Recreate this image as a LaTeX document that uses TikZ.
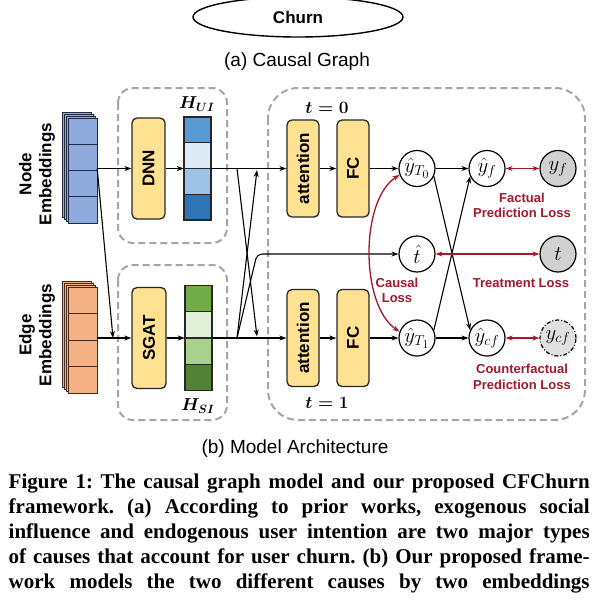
\documentclass[tikz,border=0pt]{standalone}
\usepackage{fontspec}
\setmainfont{Liberation Serif}
\setsansfont{Liberation Sans}
\usetikzlibrary{arrows.meta,shapes.geometric}
\definecolor{boxyellow}{HTML}{FFE291}
\definecolor{dashgray}{HTML}{A6A6A6}
\definecolor{lossred}{HTML}{A3192A}
\definecolor{nodeblue}{HTML}{8FAADC}
\definecolor{navy}{HTML}{1F2A44}
\definecolor{edgeorange}{HTML}{F4B183}
\definecolor{brownd}{HTML}{4A2A1A}
\definecolor{ub1}{HTML}{5B9BD5}
\definecolor{ub2}{HTML}{DEEBF7}
\definecolor{ub3}{HTML}{9DC3E6}
\definecolor{ub4}{HTML}{2E75B6}
\definecolor{sg1}{HTML}{70AD47}
\definecolor{sg2}{HTML}{E2F0D9}
\definecolor{sg3}{HTML}{A9D18E}
\definecolor{sg4}{HTML}{548235}
\tikzset{
  ybox/.style={draw=black!85, fill=boxyellow, line width=1.3pt, rounded corners=5pt, rotate=90,
    font=\sffamily\bfseries\fontsize{17}{17}\selectfont, inner sep=0pt},
  gbox/.style={draw=dashgray, line width=2pt, dash pattern=on 7pt off 4pt},
  circ/.style={circle, draw, line width=1.2pt, minimum size=36pt, inner sep=0pt, font=\fontsize{20.74}{20.74}\selectfont},
  gcirc/.style={circ, fill=black!18},
  arr/.style={-{Stealth[length=7pt,width=5pt]}, line width=1.1pt},
  rarr/.style={{Stealth[length=7pt,width=5pt]}-{Stealth[length=7pt,width=5pt]}, line width=1.3pt, draw=lossred},
  losslbl/.style={text=lossred, font=\sffamily\bfseries\fontsize{13}{15.5}\selectfont, align=center},
  emblbl/.style={rotate=90, font=\sffamily\bfseries\fontsize{17}{20}\selectfont, align=center},
  capsf/.style={font=\sffamily\fontsize{19}{19}\selectfont},
  capline/.style={anchor=base west, inner sep=0pt, font=\bfseries\fontsize{21}{25}\selectfont},
  hold/.style={inner sep=0pt, draw=none},
  mathlbl/.style={font=\fontsize{17.28}{17.28}\selectfont\boldmath}
}
\frenchspacing
\begin{document}
\begin{tikzpicture}[x=1pt,y=-1pt]
\useasboundingbox (0,0) rectangle (606,606);
\fill[white] (0,0) rectangle (606,606);

% (a) causal graph
\node[ellipse, draw, line width=1.4pt, minimum width=210pt, minimum height=40pt,
  font=\sffamily\bfseries\fontsize{17}{17}\selectfont] (churn) at (298,17) {Churn};
\coordinate (above) at (301,-14);
\draw[arr] (above) -- (churn.north);
\node[capsf] (capa) at (297,62) {(a) Causal Graph};

% dashed group boxes
\draw[gbox, rounded corners=15pt] (118,88) rectangle (227,243);
\draw[gbox, rounded corners=15pt] (118,265) rectangle (227,420);
\draw[gbox, rounded corners=30pt] (268,88) rectangle (585,420);

% embedding labels
\node[emblbl] (nlab) at (37,174) {Node\\Embeddings};
\node[emblbl] (elab) at (37,335) {Edge\\Embeddings};

% node embedding stack
\foreach \d in {6,4,2} \draw[fill=nodeblue, draw=navy, line width=1pt] ({68-\d},{118-\d}) rectangle ({97-\d},{223-\d});
\foreach \i in {0,...,3} \draw[fill=nodeblue, draw=navy, line width=1pt] (68,{118+26.25*\i}) rectangle (97,{118+26.25*(\i+1)});
\node[hold, minimum width=29pt, minimum height=105pt] (nemb) at (82.5,170.5) {};

% edge embedding stack
\foreach \d in {6,4,2} \draw[fill=edgeorange, draw=brownd, line width=1pt] ({68-\d},{287-\d}) rectangle ({97-\d},{393-\d});
\foreach \i in {0,...,3} \draw[fill=edgeorange, draw=brownd, line width=1pt] (68,{287+26.5*\i}) rectangle (97,{287+26.5*(\i+1)});
\node[hold, minimum width=29pt, minimum height=106pt] (eemb) at (82.5,340) {};

% DNN / SGAT (rotated: .north = left side, .south = right side)
\node[ybox, minimum width=101pt, minimum height=33pt] (dnn) at (148.5,168.5) {DNN};
\node[ybox, minimum width=101pt, minimum height=34pt] (sgat) at (149,338) {SGAT};

% H_UI
\foreach \c [count=\i from 0] in {ub1,ub2,ub3,ub4}
  \draw[fill=\c, draw=black!85, line width=1.1pt] (184,{117+25.75*\i}) rectangle (211,{117+25.75*(\i+1)});
\node[hold, minimum width=27pt, minimum height=103pt] (hui) at (197.5,168.5) {};
\node[mathlbl] (huil) at (197,104) {$H_{UI}$};

% H_SI
\foreach \c [count=\i from 0] in {sg1,sg2,sg3,sg4}
  \draw[fill=\c, draw=black!85, line width=1.1pt] (185,{285.5+26.25*\i}) rectangle (212,{285.5+26.25*(\i+1)});
\node[hold, minimum width=27pt, minimum height=105pt] (hsi) at (198.5,338) {};
\node[mathlbl] (hsil) at (198,406) {$H_{SI}$};

% attention / FC
\node[ybox, minimum width=97pt, minimum height=32pt] (att0) at (303,168.5) {attention};
\node[ybox, minimum width=97pt, minimum height=32pt] (fc0) at (353,168.5) {FC};
\node[ybox, minimum width=97pt, minimum height=32pt] (att1) at (303,338) {attention};
\node[ybox, minimum width=97pt, minimum height=32pt] (fc1) at (353,338) {FC};
\node[mathlbl] (t0l) at (327,108) {$t=0$};
\node[mathlbl] (t1l) at (327,403) {$t=1$};

% circles
\node[circ] (T0) at (417,168.5) {$\hat{y}_{T_0}$};
\node[circ] (yf) at (487,168.5) {$\hat{y}_{f}$};
\node[gcirc] (yfo) at (558,168.5) {$y_{f}$};
\node[circ] (that) at (417,254) {$\hat{t}$};
\node[gcirc] (tt) at (558,254) {$t$};
\node[circ] (T1) at (417,338) {$\hat{y}_{T_1}$};
\node[circ] (ycf) at (487,338) {$\hat{y}_{cf}$};
\node[gcirc, fill=black!12, dash pattern=on 4pt off 2pt on 1pt off 2pt] (ycfo) at (558,338) {$y_{cf}$};

% loss labels
\node[losslbl] (fl) at (522,205.5) {Factual\\Prediction Loss};
\node[losslbl] (tl) at (521,283) {Treatment Loss};
\node[losslbl] (cl) at (397,290.5) {Causal\\Loss};
\node[losslbl] (cfl) at (522,377) {Counterfactual\\Prediction Loss};

% left connectors
\coordinate (m1) at (113,338);
\draw[arr] (nemb.east |- dnn.center) -- (dnn.north);
\draw[arr] (nemb.east |- dnn.center) -- (m1);
\draw[arr] (eemb.east |- sgat.center) -- (sgat.north);
\draw[arr] (dnn.south) -- (hui.west);
\draw[arr] (sgat.south) -- (hsi.west);
\draw[arr] (hui.east) -- (att0.north);
\draw[arr] (hsi.east) -- (att1.north);

% crossings
\coordinate (s0) at (237,168.5);
\coordinate (s1) at (237,338);
\coordinate (e0) at (257,170);
\coordinate (e1) at (257,336.5);
\draw[arr] (s0) -- (e1);
\draw[arr] (s1) -- (e0);
\draw[arr, rounded corners=5pt] (s1) -- (that.west -| e0) -- (that.west);

% attention -> FC -> circles
\draw[arr] (att0.south) -- (fc0.north);
\draw[arr] (att1.south) -- (fc1.north);
\draw[arr] (fc0.south) -- (T0.west);
\draw[arr] (fc1.south) -- (T1.west);

% right connectors
\draw[arr] (T0.east) -- (yf.west);
\draw[arr] (T1.east) -- (ycf.west);
\draw[arr] (T0.-25) -- (ycf.155);
\draw[arr] (T1.25) -- (yf.-155);

% losses
\draw[rarr] (yf.east) -- (yfo.west);
\draw[rarr] (that.east) -- (tt.west);
\draw[rarr] (ycf.east) -- (ycfo.west);
\draw[rarr] (T0.200) .. controls (360,200) and (360,305) .. (T1.160);

\node[capsf] (capb) at (295,449) {(b) Model Architecture};

% figure caption
\node[capline] (c1) at (8.5,488) {\makebox[581pt][s]{Figure 1: The causal graph model and our proposed CFChurn}};
\node[capline] (c2) at (8.5,513) {\makebox[581pt][s]{framework. (a) According to prior works, exogenous social}};
\node[capline] (c3) at (8.5,538) {\makebox[581pt][s]{influence and endogenous user intention are two major types}};
\node[capline] (c4) at (8.5,563) {\makebox[581pt][s]{of causes that account for user churn. (b) Our proposed frame-}};
\node[capline] (c5) at (8.5,588) {\makebox[581pt][s]{work models the two different causes by two embeddings}};
\end{tikzpicture}
\end{document}
